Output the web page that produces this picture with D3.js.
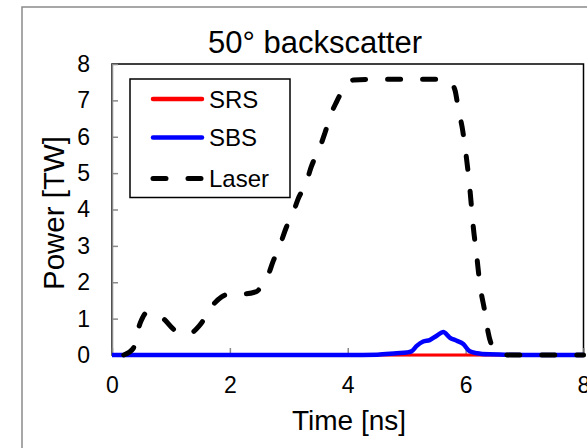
<!DOCTYPE html>
<html>
<head>
<meta charset="utf-8">
<script src="https://cdn.jsdelivr.net/npm/d3@7"></script>
<style>
  html, body { margin: 0; padding: 0; background: #fff; }
  svg { display: block; font-family: "Liberation Sans", Arial, sans-serif; }
</style>
</head>
<body>
<svg id="chart" width="587" height="448"></svg>
<script>
// ---- data ----
const title = "50° backscatter";
const xLabel = "Time [ns]";
const yLabel = "Power [TW]";
const xTicks = [0, 2, 4, 6, 8];
const yTicks = [0, 1, 2, 3, 4, 5, 6, 7, 8];
const seriesNames = ["SRS", "SBS", "Laser"];

const laserTime = [0.2,0.36,0.44,0.5,0.58,0.65,0.87,1.06,1.3,1.49,1.71,1.86,2.0,2.22,2.45,2.56,2.65,2.73,2.85,2.96,3.07,3.15,3.30,3.38,3.53,3.61,3.72,3.81,3.92,3.98,4.1,4.5,5.0,5.5,5.65,5.74,5.82,5.88,5.94,5.99,6.07,6.13,6.19,6.24,6.33,6.38,6.47,6.58,6.7,7.0,7.5,8.0];
const laserPower = [0,0.18,0.69,0.96,1.15,1.15,1.0,0.69,0.58,0.82,1.37,1.6,1.68,1.68,1.74,1.97,2.2,2.56,3.02,3.52,3.89,4.26,4.76,5.17,5.72,6.09,6.64,6.96,7.3,7.45,7.56,7.58,7.58,7.58,7.56,7.5,7.28,6.73,6.27,5.72,4.6,3.52,2.7,1.97,1.15,0.64,0.18,0.03,0,0,0,0];

const sbsTime = [0,1,2,3,4,4.5,4.83,5.0,5.08,5.17,5.28,5.39,5.51,5.62,5.73,5.85,5.96,6.07,6.19,6.4,7,8];
const sbsPower = [0,0,0,0,0,0.01,0.05,0.07,0.1,0.25,0.37,0.41,0.53,0.63,0.48,0.39,0.3,0.1,0.05,0.02,0,0];

const srsTime = [0,2,4,6,8];
const srsPower = [0,0,0,0,0];

// ---- drawing ----
const svg = d3.select("#chart");
const x = d3.scaleLinear().domain([0, 8]).range([112, 583.5]);
const y = d3.scaleLinear().domain([0, 8]).range([355, 64]);

// outer chart frame
svg.append("rect").attr("x", 22).attr("y", 7).attr("width", 640).attr("height", 480)
  .attr("fill", "#fff").attr("stroke", "#8a8a8a").attr("stroke-width", 1.5);

// title
svg.append("text").attr("x", 315).attr("y", 53).attr("text-anchor", "middle")
  .attr("font-size", 31).attr("fill", "#000").text(title);

// plot area border
svg.append("rect").attr("x", x(0)).attr("y", y(8)).attr("width", x(8) - x(0)).attr("height", y(0) - y(8))
  .attr("fill", "none").attr("stroke", "#000").attr("stroke-width", 1.5);

// axes
const yAxis = d3.axisLeft(y).tickValues(yTicks).tickSizeInner(-6).tickSizeOuter(0).tickPadding(22).tickFormat(d3.format("d"));
const gy = svg.append("g").attr("transform", `translate(${x(0)},0)`).call(yAxis);
const xAxis = d3.axisBottom(x).tickValues(xTicks).tickSizeInner(-7).tickSizeOuter(0).tickPadding(22).tickFormat(d3.format("d"));
const gx = svg.append("g").attr("transform", `translate(0,${y(0)})`).call(xAxis);
[gx, gy].forEach(g => {
  g.select(".domain").attr("stroke", "#8a8a8a").attr("stroke-width", 1.5);
  g.selectAll(".tick line").attr("stroke", "#8a8a8a").attr("stroke-width", 1.5);
  g.selectAll(".tick text").attr("fill", "#000").attr("font-size", 23)
    .attr("font-family", "'Liberation Sans', Arial, sans-serif");
});

// axis titles
svg.append("text").attr("x", 349).attr("y", 430).attr("text-anchor", "middle")
  .attr("font-size", 28).attr("fill", "#000").text(xLabel);
svg.append("text").attr("transform", "translate(64,213) rotate(-90)").attr("text-anchor", "middle")
  .attr("font-size", 29.5).attr("fill", "#000").text(yLabel);

// lines
const line = d3.line().x(d => x(d[0])).y(d => y(d[1])).curve(d3.curveMonotoneX);
const zip = (a, b) => a.map((v, i) => [v, b[i]]);

svg.append("path").datum(zip(srsTime, srsPower)).attr("d", line)
  .attr("fill", "none").attr("stroke", "#ff0000").attr("stroke-width", 3).attr("stroke-linejoin", "round");
svg.append("path").datum(zip(sbsTime, sbsPower)).attr("d", line)
  .attr("fill", "none").attr("stroke", "#0000ff").attr("stroke-width", 4.5).attr("stroke-linejoin", "round");
svg.append("path").datum(zip(laserTime, laserPower)).attr("d", line)
  .attr("fill", "none").attr("stroke", "#000").attr("stroke-width", 5)
  .attr("stroke-dasharray", "13 22").attr("stroke-linecap", "round").attr("stroke-linejoin", "round");

// legend
const legend = svg.append("g");
legend.append("rect").attr("x", 130).attr("y", 79).attr("width", 160).attr("height", 118.5)
  .attr("fill", "#fff").attr("stroke", "#000").attr("stroke-width", 1.5);
const legColors = ["#ff0000", "#0000ff", "#000"];
const legLineY = [99, 137.5, 178.5];
const legTextY = [107.5, 146, 186.5];
seriesNames.forEach((name, i) => {
  const l = legend.append("line").attr("x1", 153).attr("x2", 202).attr("y1", legLineY[i]).attr("y2", legLineY[i])
    .attr("stroke", legColors[i]).attr("stroke-width", i === 2 ? 5 : 4.5).attr("stroke-linecap", "round");
  if (i === 2) l.attr("x1", 153).attr("x2", 203).attr("stroke-dasharray", "13 22");
  legend.append("text").attr("x", 209).attr("y", legTextY[i]).attr("font-size", 24).attr("fill", "#000").text(name);
});
</script>
</body>
</html>
